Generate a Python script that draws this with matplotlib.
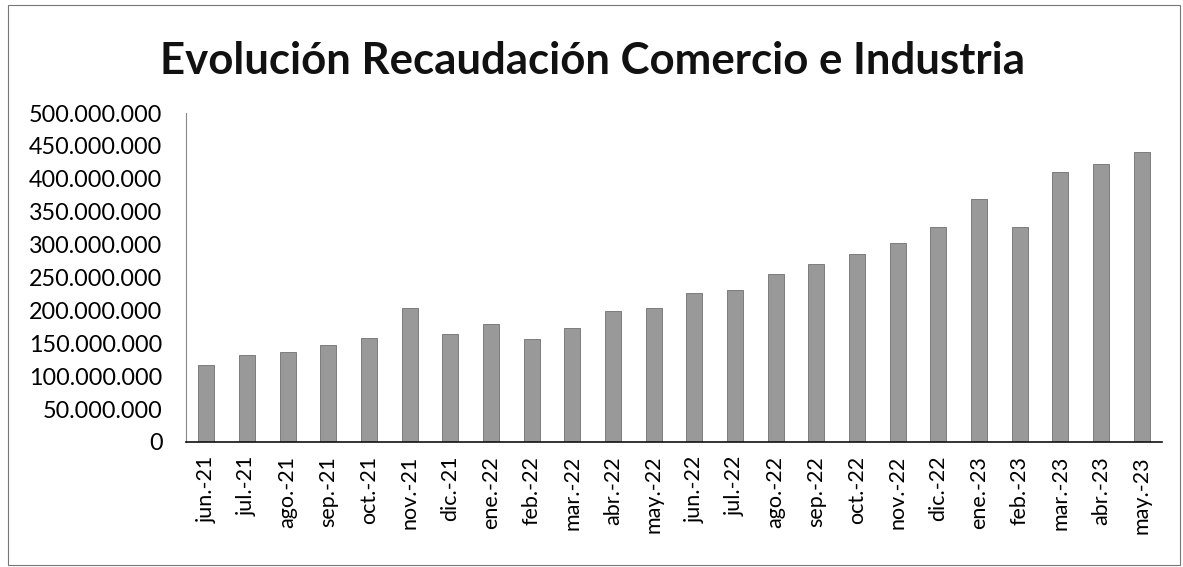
import matplotlib
matplotlib.use("Agg")
import matplotlib.pyplot as plt
from matplotlib.ticker import FuncFormatter
from matplotlib.patches import Rectangle

months = ["jun.-21", "jul.-21", "ago.-21", "sep.-21", "oct.-21", "nov.-21",
          "dic.-21", "ene.-22", "feb.-22", "mar.-22", "abr.-22", "may.-22",
          "jun.-22", "jul.-22", "ago.-22", "sep.-22", "oct.-22", "nov.-22",
          "dic.-22", "ene.-23", "feb.-23", "mar.-23", "abr.-23", "may.-23"]
recaudacion = [117.5e6, 131.5e6, 137.5e6, 147.0e6, 158.0e6, 204.0e6,
               164.5e6, 179.0e6, 156.5e6, 174.0e6, 199.0e6, 204.0e6,
               226.5e6, 231.5e6, 256.0e6, 270.0e6, 286.0e6, 302.0e6,
               326.0e6, 370.0e6, 326.0e6, 410.0e6, 422.0e6, 441.0e6]
y_ticks = [0, 50e6, 100e6, 150e6, 200e6, 250e6, 300e6, 350e6, 400e6, 450e6, 500e6]
title = "Evolución Recaudación Comercio e Industria"

plt.rcParams['font.family'] = ['Lato', 'DejaVu Sans']

W, H = 1183, 567
fig = plt.figure(figsize=(W / 100, H / 100), dpi=100)
ax = fig.add_axes([186 / W, 1 - 442 / H, (1162 - 186) / W, (442 - 113) / H])

x = list(range(len(months)))
ax.bar(x, recaudacion, width=0.4, color="#999999", edgecolor="#6f6f6f", linewidth=0.6)

ax.set_xlim(-0.5, len(months) - 0.5)
ax.set_ylim(0, 500e6)
ax.set_yticks(y_ticks)

def fmt(v, pos):
    v = int(round(v))
    if v == 0:
        return "0"
    return f"{v:,}".replace(",", ".")

ax.yaxis.set_major_formatter(FuncFormatter(fmt))
ax.set_xticks(x)
ax.set_xticklabels(months, rotation=90, fontsize=15.5)
ax.tick_params(axis='y', labelsize=16.8, length=0, pad=17)
ax.tick_params(axis='x', length=0, pad=10)

for s in ["top", "right"]:
    ax.spines[s].set_visible(False)
ax.spines["left"].set_color("#888888")
ax.spines["left"].set_linewidth(0.8)
ax.spines["bottom"].set_color("#111111")
ax.spines["bottom"].set_linewidth(1.2)

fig.text(592 / W, 1 - 61 / H, title, ha="center", va="center",
         fontsize=31.5, fontweight="bold", color="#111111")

fig.patches.append(Rectangle((8 / W, 2 / H), (1180 - 8) / W, (562 - 2) / H,
                             transform=fig.transFigure, fill=False,
                             edgecolor="#777777", linewidth=0.8))

fig.savefig("out.png", dpi=100)
